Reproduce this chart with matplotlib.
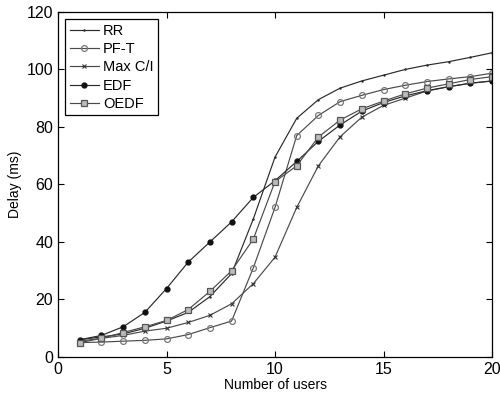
import matplotlib
matplotlib.use("Agg")
import matplotlib.pyplot as plt

plt.rcParams['font.family'] = ['Liberation Sans', 'DejaVu Sans']

users = list(range(1, 21))
rr = [6, 7, 8, 10, 12.5, 15.5, 21, 29, 48, 69.5, 83, 89.5, 93.5, 96, 98, 100, 101.5, 102.7, 104.2, 105.8]
pft = [5, 5.2, 5.5, 5.8, 6.3, 7.8, 10.2, 12.5, 31, 52, 77, 84, 88.8, 91, 93, 94.5, 95.8, 96.7, 97.5, 98.7]
maxci = [5.5, 6.5, 7.5, 9, 10, 12, 14.5, 18.5, 25.5, 34.7, 52, 66.5, 76.6, 83.4, 87.5, 90, 92.5, 94, 95.2, 96]
edf = [6, 7.5, 10.5, 15.5, 23.8, 33, 40, 47, 55.5, 61.3, 68, 75, 80.7, 85.5, 88.5, 90.8, 92.6, 94, 95.2, 96]
oedf = [5, 6.5, 8.5, 10.5, 12.7, 16.5, 22.8, 30, 41, 61, 66.5, 76.5, 82.4, 86.3, 89, 91.5, 93.5, 95, 96.5, 97.5]

xticks = [0, 5, 10, 15, 20]
yticks = [0, 20, 40, 60, 80, 100, 120]

fig = plt.figure(figsize=(5.0, 3.98), dpi=100)
ax = fig.add_axes([0.116, 0.103, 0.868, 0.867])

lw = 0.85
ax.plot(users, rr, color='#2a2a2a', lw=lw, marker='.', ms=1.5, label='RR')
ax.plot(users, pft, color='#4a4a4a', lw=lw, marker='o', ms=4.2, mfc='none', mec='#777777', mew=0.9, label='PF-T')
ax.plot(users, maxci, color='#4a4a4a', lw=lw, marker='x', ms=3, mec='#333333', mew=0.8, label='Max C/I')
ax.plot(users, edf, color='#2a2a2a', lw=lw, marker='o', ms=3.5, mfc='#111111', mec='#111111', label='EDF')
ax.plot(users, oedf, color='#4a4a4a', lw=lw, marker='s', ms=4, mfc='#bbbbbb', mec='#555555', mew=0.9, label='OEDF')

ax.set_xlim(0, 20)
ax.set_ylim(0, 120)
ax.set_xticks(xticks)
ax.set_yticks(yticks)
ax.tick_params(direction='in', top=True, right=True, labelsize=11.5, length=4, width=0.8)
for s in ax.spines.values():
    s.set_linewidth(0.9)
ax.set_xlabel('Number of users', fontsize=10, labelpad=1)
ax.set_ylabel('Delay (ms)', fontsize=10, labelpad=3)

leg = ax.legend(loc='upper left', fontsize=10.5, frameon=True, fancybox=False,
                edgecolor='black', framealpha=1, labelspacing=0.3, handlelength=2.0,
                handletextpad=0.3, borderpad=0.3, borderaxespad=0.5)
leg.get_frame().set_linewidth(0.9)

fig.savefig('out.png', dpi=100)
